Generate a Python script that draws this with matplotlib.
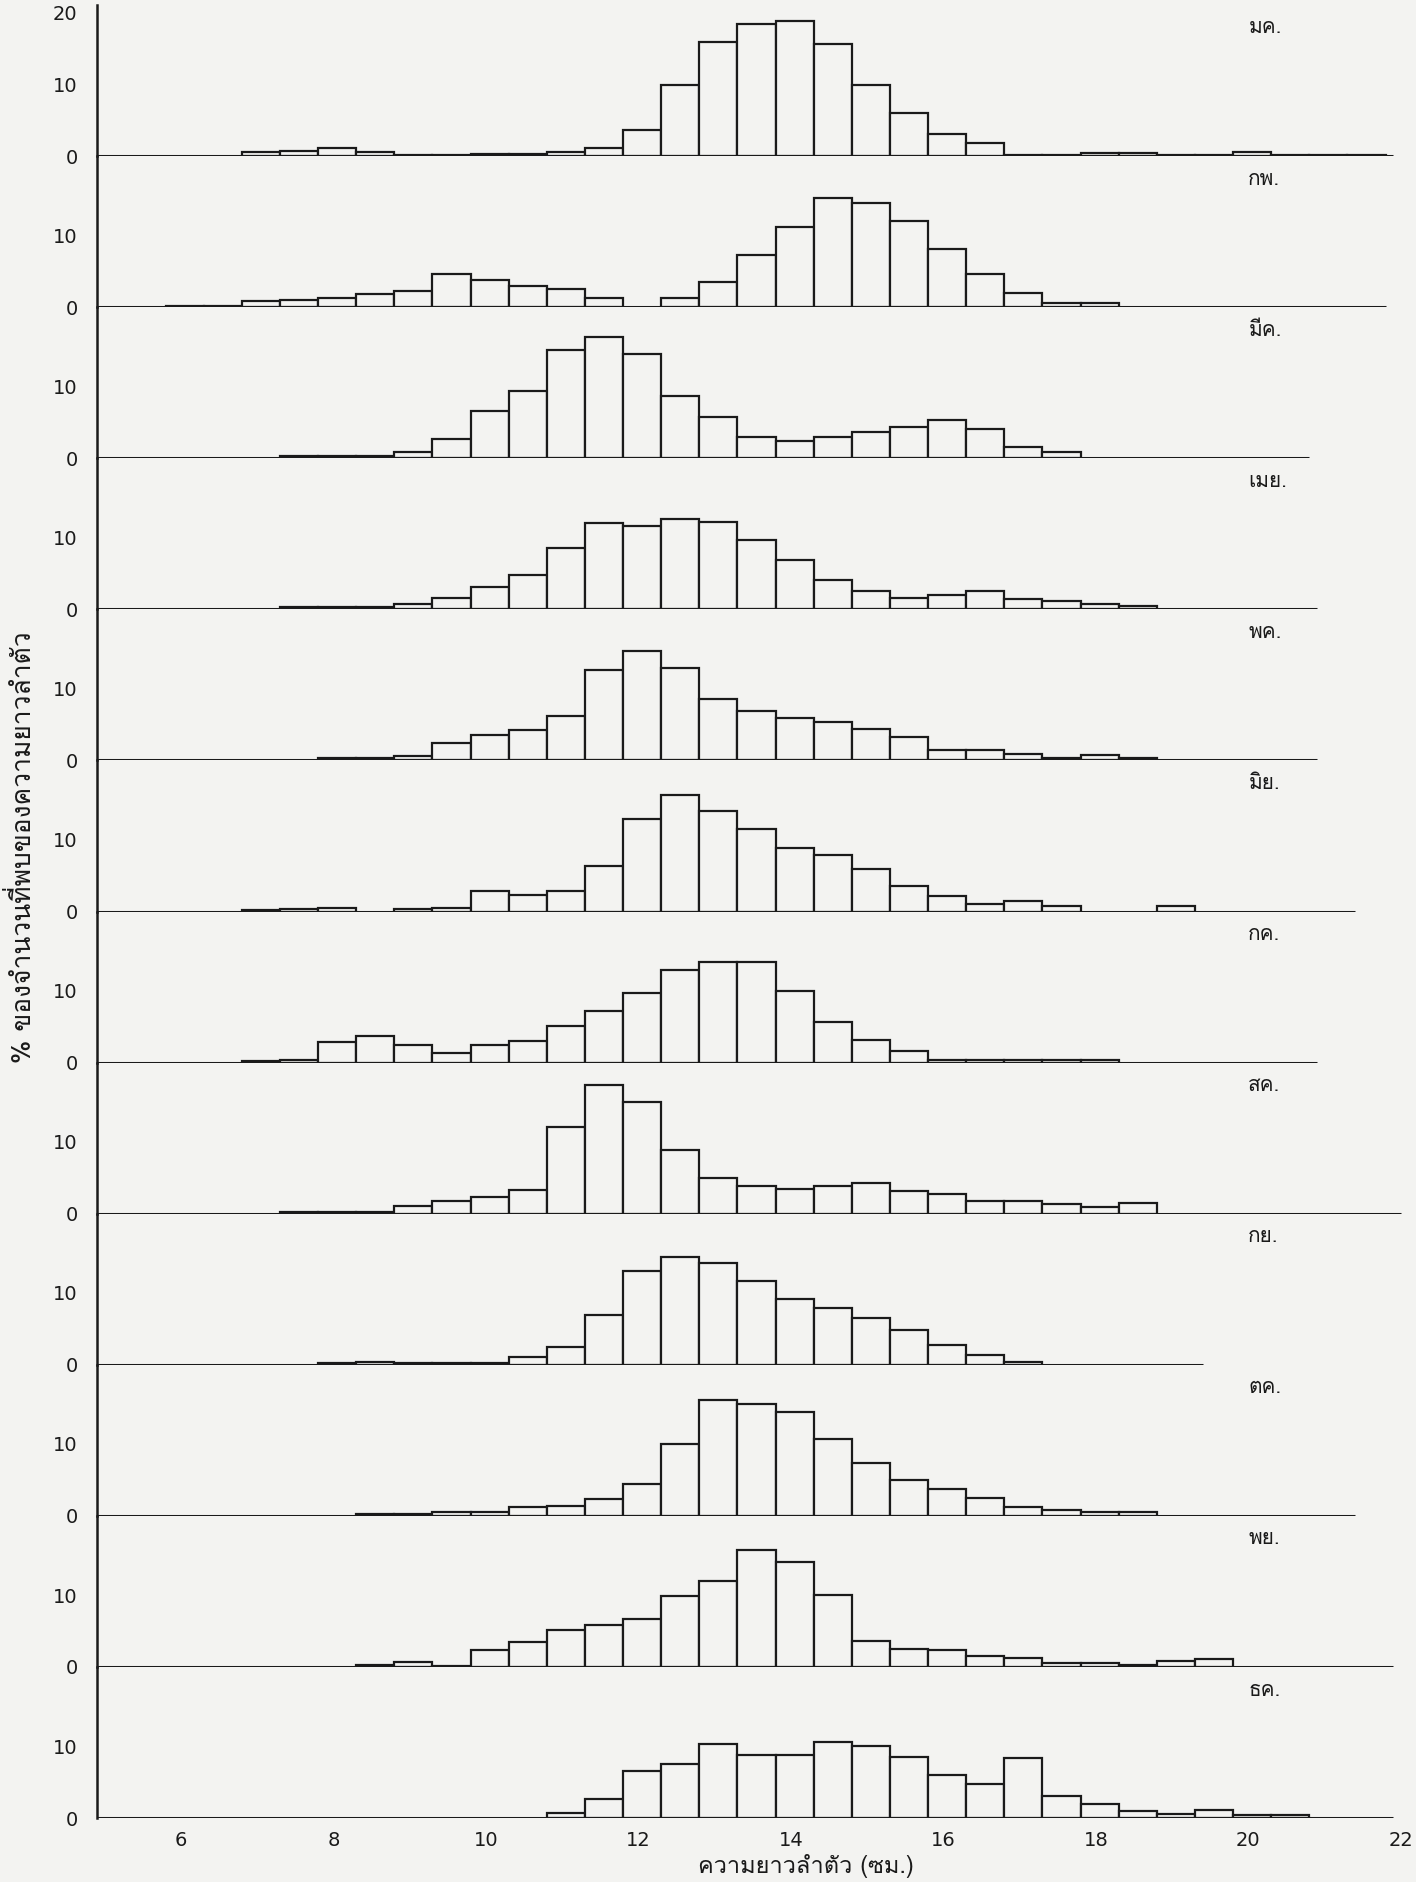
import numpy as np
import matplotlib
matplotlib.use("Agg")
from matplotlib import pyplot as plt
from matplotlib import font_manager
from matplotlib.ft2font import FT2Font

# ช่วงความยาว (ซม.) ขอบซ้ายของแต่ละชั้น กว้าง 0.5
bin_left = np.arange(5.8, 21.5, 0.5)

months = ["มค.", "กพ.", "มีค.", "เมย.", "พค.", "มิย.",
          "กค.", "สค.", "กย.", "ตค.", "พย.", "ธค."]

jan = [0, 0, 0.5, 0.7, 1.1, 0.5, 0.2, 0.2, 0.3, 0.3, 0.6, 1.1, 3.6, 9.8, 15.8, 18.3,
       18.7, 15.6, 9.9, 6.0, 3.1, 1.8, 0.2, 0.2, 0.4, 0.4, 0.2, 0.2, 0.5, 0.2, 0.2, 0.2]
feb = [0.1, 0.2, 0.8, 1.0, 1.3, 1.8, 2.2, 4.6, 3.7, 2.9, 2.5, 1.3, 0, 1.2, 3.5, 7.2,
       11.1, 15.2, 14.4, 12.0, 8.1, 4.6, 1.9, 0.6, 0.6, 0, 0, 0, 0, 0, 0, 0]
mar = [0, 0, 0, 0.3, 0.3, 0.3, 0.8, 2.7, 6.5, 9.4, 15.1, 16.9, 14.5, 8.7, 5.7, 3.0,
       2.4, 3.0, 3.7, 4.3, 5.3, 4.1, 1.6, 0.8, 0, 0, 0, 0, 0, 0, 0, 0]
apr = [0, 0, 0, 0.3, 0.3, 0.3, 0.8, 1.6, 3.1, 4.7, 8.5, 12.0, 11.6, 12.5, 12.2, 9.6,
       6.8, 4.1, 2.5, 1.6, 2.0, 2.6, 1.5, 1.1, 0.7, 0.5, 0, 0, 0, 0, 0, 0]
may = [0, 0, 0, 0, 0.3, 0.3, 0.6, 2.4, 3.5, 4.2, 6.2, 12.5, 15.2, 12.9, 8.5, 6.9,
       5.9, 5.3, 4.3, 3.2, 1.5, 1.4, 0.9, 0.3, 0.8, 0.3, 0, 0, 0, 0, 0, 0]
jun = [0, 0, 0.2, 0.4, 0.5, 0, 0.3, 0.5, 2.9, 2.3, 2.9, 6.3, 12.9, 16.2, 14.0, 11.5,
       8.8, 7.9, 5.9, 3.5, 2.2, 1.1, 1.5, 0.7, 0, 0, 0.7, 0, 0, 0, 0, 0]
jul = [0, 0, 0.2, 0.4, 2.9, 3.7, 2.4, 1.4, 2.4, 3.0, 5.1, 7.2, 9.7, 12.9, 14.0, 14.0,
       9.9, 5.6, 3.2, 1.6, 0.3, 0.3, 0.3, 0.3, 0.3, 0, 0, 0, 0, 0, 0, 0]
aug = [0, 0, 0, 0.2, 0.2, 0.3, 1.1, 1.8, 2.3, 3.3, 12.1, 17.9, 15.5, 8.8, 5.0, 3.8,
       3.5, 3.9, 4.3, 3.2, 2.7, 1.8, 1.8, 1.4, 1.0, 1.5, 0, 0, 0, 0, 0, 0]
sep = [0, 0, 0, 0, 0.3, 0.4, 0.2, 0.2, 0.3, 1.1, 2.5, 6.9, 13.0, 15.0, 14.2, 11.7,
       9.2, 7.9, 6.5, 4.9, 2.8, 1.3, 0.4, 0, 0, 0, 0, 0, 0, 0, 0, 0]
oct_ = [0, 0, 0, 0, 0, 0.3, 0.3, 0.6, 0.5, 1.2, 1.4, 2.4, 4.4, 10.0, 16.1, 15.6,
        14.4, 10.7, 7.3, 5.0, 3.8, 2.5, 1.3, 0.8, 0.55, 0.5, 0, 0, 0, 0, 0, 0]
nov = [0, 0, 0, 0, 0, 0.3, 0.7, 0.2, 2.4, 3.5, 5.1, 5.8, 6.7, 9.8, 12.0, 16.3,
       14.6, 10.0, 3.6, 2.5, 2.4, 1.5, 1.25, 0.5, 0.55, 0.3, 0.8, 1.1, 0, 0, 0, 0]
dec = [0, 0, 0, 0, 0, 0, 0, 0, 0, 0, 0.7, 2.7, 6.5, 7.5, 10.3, 8.8,
       8.8, 10.6, 10.0, 8.5, 6.0, 4.8, 8.3, 3.1, 1.9, 1.0, 0.6, 1.1, 0.5, 0.4, 0, 0]

percent = [jan, feb, mar, apr, may, jun, jul, aug, sep, oct_, nov, dec]

# เส้นฐานของแต่ละเดือนยาวไปถึง (ซม.)
baseline_end = [21.9, 21.8, 20.8, 20.9, 20.9, 21.4, 20.9, 22.0, 19.4, 21.4, 21.9, 21.9]

xticks = [6, 8, 10, 12, 14, 16, 18, 20, 22]

# หาฟอนต์ที่มีอักษรไทย
thai_font = None
for f in font_manager.fontManager.ttflist:
    try:
        if 0x0E01 in FT2Font(f.fname).get_charmap():
            thai_font = f.name
            break
    except Exception:
        pass
families = [thai_font, "DejaVu Sans"] if thai_font else ["DejaVu Sans"]
plt.rcParams["font.family"] = families

paper = "#f3f3f1"
ink = "#1a1a1a"

W, H = 1416, 1882
fig = plt.figure(figsize=(W / 100, H / 100), dpi=100, facecolor=paper)

left = 97 / W
top_base = 156
step = 151.1
xmin, xmax = 4.9, 22.2

for i, (name, vals) in enumerate(zip(months, percent)):
    y0 = 1 - (top_base + step * i) / H
    ax = fig.add_axes([left, y0, 1 - left, step / H])
    ax.set_facecolor("none")
    ax.set_xlim(xmin, xmax)
    ax.set_ylim(0, 21)
    vals = np.array(vals, dtype=float)
    m = vals > 0
    ax.bar(bin_left[m], vals[m], width=0.5, align="edge",
           facecolor=paper, edgecolor=ink, linewidth=1.6, zorder=3)
    ax.hlines(0, xmin, baseline_end[i], color=ink, linewidth=2.2, zorder=4)
    for s in ["top", "right", "bottom"]:
        ax.spines[s].set_visible(False)
    ax.spines["left"].set_color(ink)
    ax.spines["left"].set_linewidth(1.8)
    ax.set_yticks([0, 10, 20] if i == 0 else [0, 10])
    ax.set_yticklabels(["0", "10", "20"] if i == 0 else ["0", "10"],
                       fontsize=14, color=ink, family="DejaVu Sans")
    ax.tick_params(axis="y", length=0, pad=14)
    ax.text(20.0, 17.8, name, fontsize=15, color=ink, ha="left", va="center")
    if i == len(months) - 1:
        ax.set_xticks(xticks)
        ax.set_xticklabels([str(t) for t in xticks], fontsize=14, color=ink,
                           family="DejaVu Sans")
        ax.tick_params(axis="x", length=0, pad=9)
    else:
        ax.set_xticks([])

fig.text(0.0155, 0.55, "% ของจำนวนที่พบของความยาวลำตัว", rotation=90,
         fontsize=19, color=ink, ha="center", va="center")
fig.text(0.569, 0.002, "ความยาวลำตัว (ซม.)", fontsize=17, color=ink,
         ha="center", va="bottom")

fig.savefig("out.png", dpi=100, facecolor=paper)
